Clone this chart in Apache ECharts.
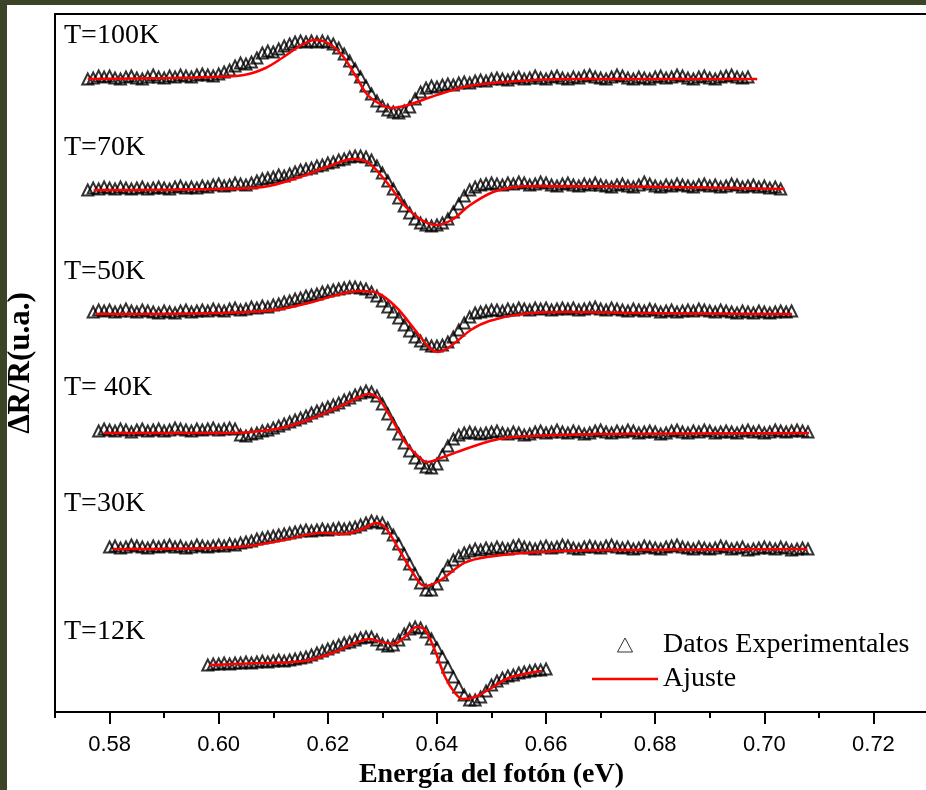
<!DOCTYPE html>
<html><head><meta charset="utf-8">
<script src="https://cdn.jsdelivr.net/npm/echarts@6/dist/echarts.min.js"></script>
<style>
html,body{margin:0;padding:0;width:926px;height:790px;overflow:hidden;background:#3c4427;}
#bg{position:absolute;left:7px;top:5px;width:919px;height:785px;background:#fff;}
#chart{position:absolute;left:0;top:0;width:926px;height:790px;}
</style></head><body><div id="bg"></div><div id="chart"></div>
<script>
// ---- data ----
const tempLabels = ['T=100K','T=70K','T=50K','T= 40K','T=30K','T=12K'];
const baselines = [633, 522, 398, 279, 163, 47];           // vertical offsets (u.a.)
const expStart = [0.576, 0.576, 0.577, 0.578, 0.580, 0.598]; // first photon energy (eV)
const expStep = 0.001;                                       // energy step (eV)
const xTicks = [0.58,0.60,0.62,0.64,0.66,0.68,0.70,0.72];
const xMinorTicks = [0.57,0.59,0.61,0.63,0.65,0.67,0.69,0.71,0.73];

const exp100 = [0,1,3,2,3,1,0,2,3,1, 0,2,4,2,1,3,2,4,3,2, 4,5,4,3,5,7,9,13,16,15,
  17,21,26,28,27,30,33,35,37,38, 37,38,37,38,37,35,31,25,18,10, 2,-7,-15,-22,-27,-31,-33,-34,-32,-28,
  -20,-13,-9,-7,-8,-6,-5,-6,-4,-3, -4,-2,-1,-2,0,1,0,-1,1,2, 0,1,3,1,0,2,3,1,0,2,
  1,3,4,2,1,0,2,4,3,1, 0,2,1,0,2,3,1,2,4,3, 1,0,2,3,1,0,2,3,4,2, 1,2];
const exp70 = [0,2,1,3,2,1,3,2,1,2, 3,1,2,3,2,1,3,4,2,3, 2,4,3,5,6,4,5,7,6,5,
  7,9,11,12,13,15,14,16,18,20, 21,22,24,25,27,28,30,31,33,34, 34,33,30,24,17,9,1,-8,-16,-23,
  -29,-33,-35,-36,-35,-33,-29,-22,-14,-6, 0,3,5,6,7,6,5,7,6,8, 7,5,6,8,7,5,4,6,7,5,
  4,6,5,7,5,4,3,5,6,4, 3,5,8,6,4,3,5,4,6,5, 4,3,5,6,4,5,3,4,6,5, 3,4,5,3,4,2,3,1];
const exp50 = [2,4,3,4,2,3,5,3,2,4, 3,2,1,3,2,1,3,4,2,3, 4,3,5,4,3,5,6,4,5,7,
  6,8,7,9,10,12,13,15,16,18, 19,20,22,23,24,25,26,27,27,26, 25,22,18,13,7,2,-4,-11,-17,-23,
  -27,-30,-32,-32,-31,-28,-23,-16,-9,-3, 1,2,3,4,4,3,5,4,6,5, 4,6,5,6,4,5,6,5,6,4,
  5,6,7,5,4,6,5,4,3,5, 4,3,5,4,2,3,4,2,3,4, 3,5,4,3,2,4,3,2,1,3, 2,1,3,2,1,2,3,2,3];
const exp40 = [2,4,3,2,4,3,1,3,4,2, 3,4,2,3,5,4,3,2,4,3, 4,5,3,4,5,4,
  -2,-3,-1,0,2,3,5,7,9,11, 13,15,17,20,22,24,26,28,30,33, 35,38,40,42,41,37,29,19,9,-1,
  -10,-18,-25,-30,-34,-35,-31,-22,-13,-6, -2,0,1,0,-1,0,1,2,0,-1, 1,0,-2,-1,1,2,0,1,3,1,
  0,2,1,-1,0,2,3,1,0,2, 1,3,2,0,1,2,1,-1,0,2, 3,1,0,2,1,3,2,0,1,2, 1,0,2,3,1,2,0,1,3,2, 1,2,3,2,1];
const exp30 = [2,3,1,2,4,3,2,1,3,2, 3,4,2,3,1,2,4,3,2,3, 4,3,5,4,6,7,8,10,11,12,
  13,14,15,16,17,18,19,18,19,20, 19,20,21,20,21,22,24,26,28,27, 26,21,14,5,-5,-15,-25,-34,-41,-41,
  -35,-26,-17,-11,-7,-4,-2,0,-1,1, 0,2,1,0,3,4,2,1,0,2, 3,1,2,4,3,1,0,2,3,2,
  1,3,4,2,1,2,0,1,3,2, 1,0,2,3,4,2,1,0,2,1, 0,1,3,2,0,1,2,-1,0,1, 2,1,0,2,1,-1,0,1,0];
const exp12 = [0,1,1,2,1,2,2,3,2,3, 4,3,4,5,4,5,6,7,8,10, 12,14,16,18,20,22,23,25,27,28,
  28,25,21,19,20,25,31,36,38,37, 33,26,17,8,-2,-12,-22,-30,-35,-35, -32,-26,-20,-16,-13,-11,-10,-8,-7,-6, -5,-5,-4];

const fit100 = [[0.576,0],[0.590,1],[0.598,2],[0.6046,4],[0.6086,11],[0.6119,22],[0.6152,34],[0.6176,39],[0.6200,36],[0.6226,24],[0.6250,4],[0.6273,-16],[0.6299,-26],[0.6316,-29],[0.6347,-26],[0.6389,-18],[0.6429,-11],[0.6470,-6],[0.6550,-2],[0.6633,0],[0.6987,0]];
const fit70 = [[0.5771,0],[0.5997,1],[0.6082,3],[0.6149,13],[0.6199,23],[0.6246,31],[0.6275,27],[0.6309,7],[0.6343,-17],[0.6372,-30],[0.6397,-35],[0.6427,-30],[0.6461,-15],[0.6503,-2],[0.6545,3],[0.6587,4],[0.6839,3],[0.7037,1]];
const fit50 = [[0.5774,0],[0.6001,1],[0.6103,4],[0.6172,12],[0.6223,20],[0.6261,23],[0.6291,21],[0.6325,7],[0.6360,-16],[0.6385,-33],[0.6402,-38],[0.6428,-31],[0.6462,-16],[0.6496,-7],[0.6556,0],[0.6641,2],[0.6769,1],[0.7051,0]];
const fit40 = [[0.5789,0],[0.6019,0],[0.6105,4],[0.6164,13],[0.6216,25],[0.6258,36],[0.6275,39],[0.6292,35],[0.6318,13],[0.6343,-10],[0.6369,-25],[0.6382,-29],[0.6412,-24],[0.6463,-14],[0.6514,-6],[0.6574,-3],[0.6702,-1],[0.7082,0]];
const fit30 = [[0.5807,0],[0.6035,2],[0.6119,9],[0.6187,16],[0.6229,15],[0.6264,20],[0.6289,26],[0.6306,21],[0.6331,-1],[0.6356,-24],[0.6378,-37],[0.6407,-31],[0.6450,-14],[0.6492,-8],[0.6585,-3],[0.6712,-1],[0.7079,0]];
const fit12 = [[0.5983,0],[0.6078,2],[0.6158,4],[0.6213,13],[0.6250,22],[0.6277,26],[0.6299,23],[0.6320,21],[0.6341,28],[0.6363,38],[0.6378,35],[0.6396,15],[0.6415,-12],[0.6433,-28],[0.6448,-34],[0.6470,-32],[0.6494,-25],[0.6531,-13],[0.6568,-8],[0.6592,-6]];

const expSets = [exp100, exp70, exp50, exp40, exp30, exp12];
const fitSets = [fit100, fit70, fit50, fit40, fit30, fit12];

// ---- build ----
const SERIF = "'Liberation Serif','Times New Roman',serif";
const SANS = "'Liberation Sans',Arial,sans-serif";
const series = [];
expSets.forEach((arr, k) => {
  series.push({
    name: 'Datos Experimentales', type: 'scatter', symbol: 'triangle', symbolSize: 11,
    itemStyle: {color: 'rgba(0,0,0,0)', borderColor: '#000', borderWidth: 2},
    data: arr.map((v, i) => [+(expStart[k] + i * expStep).toFixed(4), baselines[k] + v]),
    z: 2
  });
});
fitSets.forEach((arr, k) => {
  series.push({
    name: 'Ajuste', type: 'line', smooth: 0.35, showSymbol: false, symbol: 'none',
    lineStyle: {color: '#ff0000', width: 2.5}, itemStyle: {color: '#ff0000'},
    data: arr.map(p => [p[0], baselines[k] + p[1]]),
    z: 3
  });
});
const labelY = [37, 149, 273, 389, 505, 633];
const graphics = tempLabels.map((t, k) => ({
  type: 'text', left: 64, top: labelY[k] - 15,
  style: {text: t, font: '28px ' + SERIF, fill: '#000'}
}));

const chart = echarts.init(document.getElementById('chart'), null, {renderer: 'canvas'});
chart.setOption({
  animation: false,
  backgroundColor: 'transparent',
  grid: {left: 55, right: -2, top: 14, bottom: 78, containLabel: false, outerBoundsMode: 'none',
         show: true, borderColor: '#000', borderWidth: 2},
  xAxis: [{
    type: 'value', min: 0.57, max: 0.73, interval: 0.01,
    name: 'Energía del fotón (eV)', nameLocation: 'middle', nameGap: 43,
    nameTextStyle: {fontFamily: SERIF, fontWeight: 'bold', fontSize: 28, color: '#000'},
    axisLine: {lineStyle: {color: '#000', width: 2}},
    axisTick: {length: 12, lineStyle: {color: '#000', width: 2}, customValues: xTicks},
    axisLabel: {customValues: xTicks, formatter: v => v.toFixed(2), fontFamily: SANS, fontSize: 22, color: '#000', margin: 22},
    splitLine: {show: false}
  }, {
    type: 'value', min: 0.57, max: 0.73, interval: 0.01, position: 'bottom',
    axisLine: {show: false},
    axisTick: {length: 6, lineStyle: {color: '#000', width: 2}, customValues: xMinorTicks},
    axisLabel: {show: false},
    splitLine: {show: false}
  }],
  yAxis: {
    type: 'value', min: 0, max: 698,
    name: 'ΔR/R(u.a.)', nameLocation: 'middle', nameGap: 19,
    nameTextStyle: {fontFamily: SERIF, fontWeight: 'bold', fontSize: 31, color: '#000'},
    axisLine: {show: true, lineStyle: {color: '#000', width: 2}},
    axisTick: {show: false}, axisLabel: {show: false}, splitLine: {show: false}
  },
  legend: {
    orient: 'vertical', left: 592, top: 631, padding: 0, itemGap: 6,
    itemWidth: 66, itemHeight: 14, symbolKeepAspect: true,
    textStyle: {fontFamily: SERIF, fontSize: 28, color: '#000'},
    data: [
      {name: 'Datos Experimentales', icon: 'path://M7,0L14,13L0,13Z', itemStyle: {color: 'rgba(0,0,0,0)', borderColor: '#000', borderWidth: 1}},
      {name: 'Ajuste', icon: 'path://M0,0L66,0L66,2.5L0,2.5Z', itemStyle: {color: '#ff0000', borderWidth: 0}}
    ]
  },
  graphic: graphics,
  series: series
});
</script></body></html>
